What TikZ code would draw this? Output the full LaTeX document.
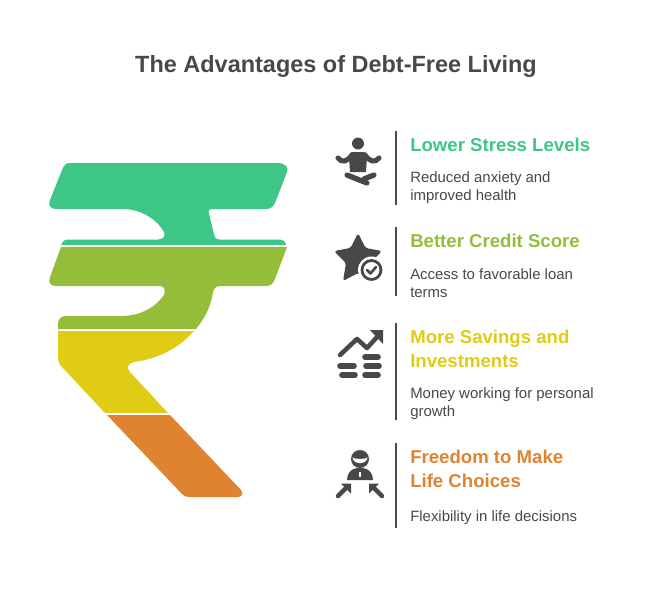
\documentclass[tikz,border=0pt]{standalone}
\usepackage{fontspec}
\setmainfont{Liberation Sans}
\definecolor{inkgray}{HTML}{484848}
\definecolor{stressgreen}{HTML}{3DC685}
\definecolor{creditolive}{HTML}{94BD3A}
\definecolor{savingsyellow}{HTML}{E0CC14}
\definecolor{freedomorange}{HTML}{DF8330}
\tikzset{headline/.style={anchor=west, inner sep=0pt, font=\bfseries\fontsize{13.95}{18}\selectfont, align=left}}
\tikzset{bodytext/.style={anchor=west, inner sep=0pt, text=inkgray, font=\fontsize{11.2}{13.5}\selectfont, align=left}}
\tikzset{divider/.style={draw=inkgray, line width=1.1pt}}
\tikzset{iconfill/.style={fill=inkgray, draw=none}}
\tikzset{iconline/.style={draw=inkgray, line width=3.4pt, line cap=round, line join=round}}
\begin{document}
\begin{tikzpicture}[x=.75pt, y=-.75pt]
  \useasboundingbox (0,0) rectangle (672,600);
  \node[inner sep=0pt, text=inkgray, font=\bfseries\fontsize{17.6}{22}\selectfont] (title) at (336,66) {The Advantages of Debt-Free Living};
  % rupee sign
  \fill[stressgreen] (70,163) -- (277,163) .. controls (285,163) and (289,167) .. (287,172)
    -- (275,203) .. controls (273,207) and (270,209) .. (266,209) -- (212,209)
    .. controls (209,209) and (208,211) .. (209,214) -- (214,234)
    .. controls (215,238) and (216,239.5) .. (220,239.5) -- (279,239.5)
    .. controls (283,239.5) and (286,242) .. (286,245) -- (61,245)
    .. controls (62,242) and (64,239.5) .. (68,239.5) -- (158,239.5)
    .. controls (163,239.5) and (166,236) .. (164,232) .. controls (157,219) and (140,209) .. (123,209)
    -- (56,209) .. controls (50,209) and (48,205) .. (50,200) -- (62,170)
    .. controls (64,165) and (66,163) .. (70,163) -- cycle;
  \fill[creditolive] (61,247) -- (287,247) -- (275,279)
    .. controls (273,284) and (270,286) .. (266,286) -- (221,286)
    .. controls (216,286) and (214,288) .. (213,292) .. controls (211,306) and (205,318) .. (196,329)
    -- (58,329) -- (58,324) .. controls (58,319) and (61,316) .. (66,316) -- (122,316)
    .. controls (140,316) and (156,307) .. (164,295) .. controls (166,290) and (164,286) .. (160,286)
    -- (56,286) .. controls (50,286) and (48,282) .. (50,277) -- cycle;
  \fill[savingsyellow] (58,331) -- (194,331) .. controls (179,348) and (158,359) .. (134,362)
    .. controls (128,363) and (126,368) .. (130,372) -- (168,413) -- (105,413) -- (62,367)
    .. controls (59,364) and (58,361) .. (58,357) -- cycle;
  \fill[freedomorange] (107,415) -- (170,415) -- (241,490)
    .. controls (244,493) and (242,497) .. (238,497) -- (189,497)
    .. controls (186,497) and (184,496) .. (182,494) -- cycle;
  % dividers
  \foreach \ytop/\ybot in {131/205,227/296,323/420,443/528}
    \draw[divider] (396,\ytop) -- (396,\ybot);
  % labels
  \node[headline, text=stressgreen] (stresshead) at (410,145) {Lower Stress Levels};
  \node[bodytext] (stressbody) at (410,187.5) {Reduced anxiety and\\improved health};
  \node[headline, text=creditolive] (credithead) at (410,241) {Better Credit Score};
  \node[bodytext] (creditbody) at (410,283.5) {Access to favorable loan\\terms};
  \node[headline, text=savingsyellow] (savingshead) at (410,349) {More Savings and\\Investments};
  \node[bodytext] (savingsbody) at (410,403.5) {Money working for personal\\growth};
  \node[headline, text=freedomorange] (freedomhead) at (410,469) {Freedom to Make\\Life Choices};
  \node[bodytext] (freedombody) at (410,517.5) {Flexibility in life decisions};
  % meditation icon
  \fill[iconfill] (358,143.5) circle (6);
  \fill[iconfill] (352,152) -- (364,152) .. controls (366,152) and (367,154) .. (367,156) -- (366,172) -- (350,172) -- (349,156) .. controls (349,154) and (350,152) .. (352,152) -- cycle;
  \draw[iconline, line width=3.8pt] (338,158) .. controls (342,163) and (347,162) .. (352,155);
  \draw[iconline, line width=3.8pt] (379,158) .. controls (375,163) and (370,162) .. (365,155);
  \draw[iconline, line width=4pt] (347,175) -- (367,183);
  \draw[iconline, line width=4pt] (374,175) -- (364,179);
  % star icon
  \fill[iconfill, rounded corners=2pt] (358,233) -- (365.5,248) -- (382,251) -- (370,263) -- (373,281) -- (358,273) -- (343,281) -- (346,263) -- (334,251) -- (350.5,248) -- cycle;
  \fill[white] (371.5,270) circle (13.5);
  \draw[draw=inkgray, line width=2.1pt] (371.5,270) circle (9.5);
  \draw[draw=inkgray, line width=1.9pt, line cap=round, line join=round] (367,270) -- (370.5,273.5) -- (376,267);
  % growth icon
  \draw[iconline] (340,355) -- (357,339) -- (367,348) -- (378,336);
  \fill[iconfill] (370,330) -- (383,330) -- (383,344) -- cycle;
  \foreach \xa/\xb/\yy in {365/378/357,340/354/366,366/379/366,342/355/375,365/378/375}
    \draw[iconline, line width=4.2pt] (\xa,\yy) -- (\xb,\yy);
  % people icon
  \fill[iconfill] (360,459) circle (9);
  \fill[white] (352.5,457.5) .. controls (356,459.5) and (364,459.5) .. (367.5,457.5) .. controls (366.5,465) and (353.5,465) .. (352.5,457.5) -- cycle;
  \fill[iconfill] (347,480) .. controls (347,473) and (351,469) .. (357,468) -- (363,468) .. controls (369,469) and (373,473) .. (373,480) -- cycle;
  \fill[white] (359.3,471.5) rectangle (361.3,476.5);
  \draw[iconline] (338,496) -- (347,487);
  \fill[iconfill] (341,483.5) -- (351,483.5) -- (351,493.5) -- cycle;
  \draw[iconline] (382,496) -- (373,487);
  \fill[iconfill] (379,483.5) -- (369,483.5) -- (369,493.5) -- cycle;
\end{tikzpicture}
\end{document}
